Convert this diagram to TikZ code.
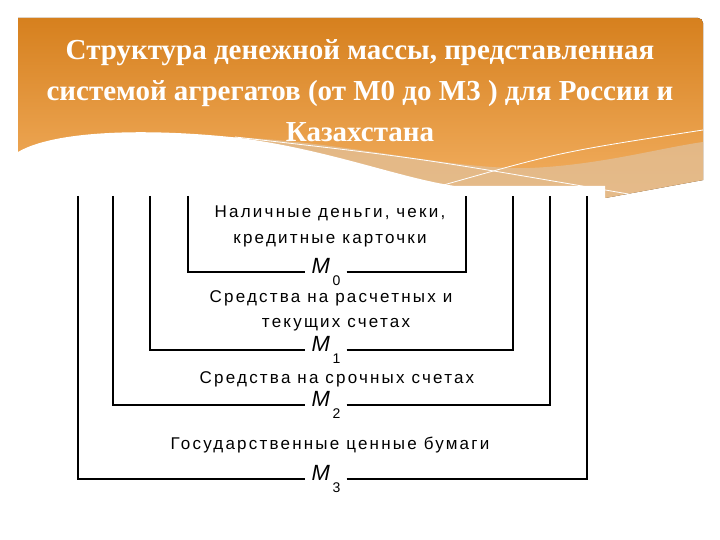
\documentclass[tikz,border=0pt]{standalone}
\usepackage{fontspec}
\setmainfont{Liberation Serif}
\newfontfamily\diagfont[LetterSpace=13]{Liberation Sans}
\newcommand{\aggname}[1]{\textit{M}\raisebox{-1.0ex}{\fontsize{14}{14}\selectfont #1}}
\definecolor{bandtop}{RGB}{214,128,30}
\definecolor{bandbot}{RGB}{243,176,98}
\definecolor{tan}{RGB}{226,190,148}
\tikzset{
  bracket/.style={line width=2.6pt},
  item/.style={font=\diagfont\fontsize{17}{19}\selectfont, align=center, inner sep=0pt},
  agg/.style={font=\diagfont\fontsize{22}{22}\selectfont, inner xsep=6pt, inner ysep=1pt},
  title/.style={font=\bfseries\fontsize{29}{41}\selectfont, text=white, align=center}
}
\begin{document}
\begin{tikzpicture}[x=1pt,y=-1pt]
      \useasboundingbox (0,0) rectangle (720,540);
      % header band
      \fill[top color=bandtop, bottom color=bandbot]
        (18,198) -- (18,18) -- (698,18) to[out=0,in=90] (703,23) -- (703,180) -- (605,198) -- cycle;
      \fill[tan, opacity=0.8]
        (230,137) .. controls (350,142) and (450,170) .. (530,168)
        .. controls (600,165) and (660,148) .. (703,142)
        -- (703,180) -- (605,198) -- (300,198) -- cycle;
      \fill[white]
        (18,152) .. controls (55,130) and (150,128) .. (240,138)
        .. controls (330,150) and (400,178) .. (455,186)
        -- (605,186) -- (605,200) -- (18,200) -- cycle;
      \draw[white, line width=0.8pt] (235,137) .. controls (420,158) .. (640,196);
      \draw[white, line width=0.8pt] (440,186) .. controls (560,152) .. (703,130);
      \node[title] (title) at (360,91)
        {Структура денежной массы, представленная\\
         системой агрегатов (от М0 до М3 ) для России и\\
         Казахстана};
      % aggregates
      \draw
        (330,213) node[item] (cash1) {Наличные деньги, чеки,}
        (330,241) node[item] (cash2) {кредитные карточки}
        (331,298) node[item] (curr1) {Средства на расчетных и}
        (336,325) node[item] (curr2) {текущих счетах}
        (337,379) node[item] (term) {Средства на срочных счетах}
        (330,445) node[item] (bonds) {Государственные ценные бумаги};
      \draw
        (326,272) node[agg] (m0) {\aggname{0}}
        (326,350) node[agg] (m1) {\aggname{1}}
        (326,405) node[agg] (m2) {\aggname{2}}
        (326,479) node[agg] (m3) {\aggname{3}};
      \begin{scope}[bracket]
        \draw (188,196) |- (m0.west);
        \draw (m0.east) -| (466,196);
        \draw (150,196) |- (m1.west);
        \draw (m1.east) -| (513,196);
        \draw (113,196) |- (m2.west);
        \draw (m2.east) -| (550,196);
        \draw (78,196) |- (m3.west);
        \draw (m3.east) -| (587,196);
      \end{scope}
    \end{tikzpicture}
\end{document}
